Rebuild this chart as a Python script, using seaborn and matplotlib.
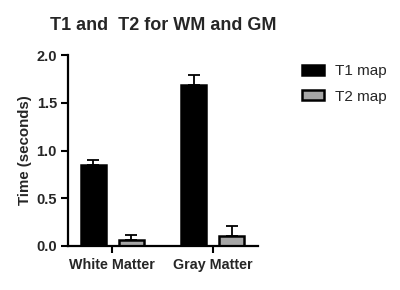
import pandas as pd
import matplotlib.pyplot as plt
import seaborn as sns

tissues = ["White Matter", "Gray Matter"]
maps = ["T1 map", "T2 map"]
t1_mean = [0.85, 1.69]
t1_err = [0.05, 0.10]
t2_mean = [0.06, 0.10]
t2_err = [0.05, 0.11]

df = pd.DataFrame({
    "tissue": tissues * 2,
    "map": [maps[0]] * 2 + [maps[1]] * 2,
    "time": t1_mean + t2_mean,
    "err": t1_err + t2_err,
})

sns.set_style("ticks")
plt.rcParams["font.family"] = ["Liberation Sans", "DejaVu Sans"]

fig = plt.figure(figsize=(4, 2.9), dpi=100)
ax = fig.add_axes([0.17, 0.152, 0.475, 0.658])

sns.barplot(data=df, x="tissue", y="time", hue="map", order=tissues, hue_order=maps,
            palette=["black", "#a6a6a6"], width=0.75, errorbar=None,
            edgecolor="black", linewidth=1.8, legend=False, ax=ax)

# shrink bars around their dodge centres and add upper error bars
for patch in ax.patches:
    cx = patch.get_x() + patch.get_width() / 2
    patch.set_width(0.25)
    patch.set_x(cx - 0.125)

for patch, (_, row) in zip(ax.patches, df.iterrows()):
    cx = patch.get_x() + patch.get_width() / 2
    ax.errorbar(cx, row["time"], yerr=[[0], [row["err"]]], fmt="none",
                ecolor="black", elinewidth=1.3, capsize=4.5, capthick=1.3, zorder=1)

ax.set_ylim(0, 2.0)
ax.set_yticks([0, 0.5, 1.0, 1.5, 2.0])
ax.set_yticklabels(["0.0", "0.5", "1.0", "1.5", "2.0"])
ax.set_xlim(-0.44, 1.45)
ax.set_xlabel("")
ax.set_ylabel("Time (seconds)", fontsize=10.8, fontweight="bold", labelpad=3)
for lab in ax.get_xticklabels():
    lab.set_fontweight("bold")
    lab.set_fontsize(10.3)
for lab in ax.get_yticklabels():
    lab.set_fontweight("bold")
    lab.set_fontsize(10.5)
ax.tick_params(width=1.5, length=5, color="black", pad=3)
ax.tick_params(axis="x", pad=4)
for s in ["left", "bottom"]:
    ax.spines[s].set_linewidth(1.6)
    ax.spines[s].set_color("black")
sns.despine(ax=ax)

fig.text(0.125, 0.895, "T1 and  T2 for WM and GM", fontsize=13, fontweight="bold")

handles = [plt.Rectangle((0, 0), 1, 1, facecolor="black", edgecolor="black", linewidth=1.8),
           plt.Rectangle((0, 0), 1, 1, facecolor="#a6a6a6", edgecolor="black", linewidth=1.8)]
fig.legend(handles, maps, loc="upper left", bbox_to_anchor=(0.72, 0.826), frameon=False,
           fontsize=11, handlelength=1.45, handleheight=0.65, handletextpad=0.75, labelspacing=0.75)

fig.savefig("out.png", dpi=100)
